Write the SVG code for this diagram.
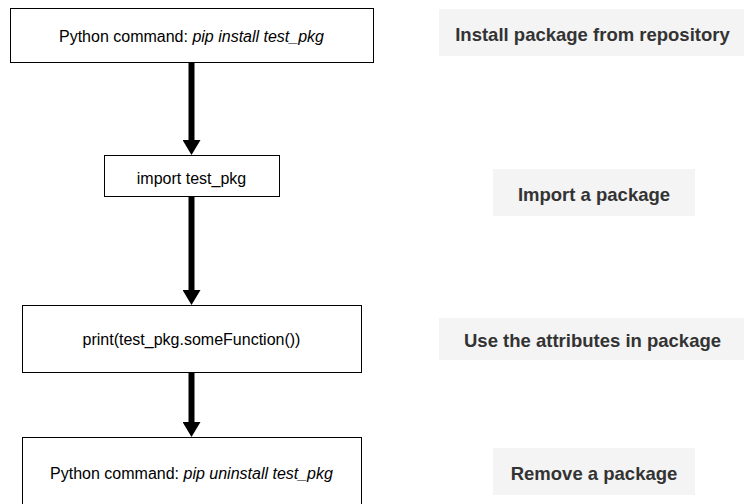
<svg xmlns="http://www.w3.org/2000/svg" width="744" height="504" viewBox="0 0 744 504">
<defs>
<style>
.box{fill:#fff;stroke:#000;stroke-width:1}
.t{font-family:"Liberation Sans",Arial,sans-serif;font-size:16px;fill:#000;text-anchor:middle;dominant-baseline:central}
.lb{fill:#f4f4f4}
.lt{font-family:"Liberation Sans",Arial,sans-serif;font-size:18.5px;font-weight:bold;fill:#333;text-anchor:middle;dominant-baseline:central}
.c{stroke:#000;stroke-width:6;fill:none}
</style>
<marker id="ah" markerUnits="userSpaceOnUse" markerWidth="15" markerHeight="18" refX="0" refY="9" orient="auto" viewBox="0 0 15 18">
<path d="M0,0 L15,9 L0,18 Z" fill="#000"/>
</marker>
</defs>
<rect width="744" height="504" fill="#fff"/>
<g id="connectors">
<path class="c" d="M191.5,62 V140" marker-end="url(#ah)"/>
<path class="c" d="M191.5,196 V290" marker-end="url(#ah)"/>
<path class="c" d="M191.5,372 V422" marker-end="url(#ah)"/>
</g>
<g id="n1">
<rect class="box" x="10.5" y="8.5" width="363" height="54"/>
<text class="t" x="191.5" y="36">Python command: <tspan font-style="italic">pip install test_pkg</tspan></text>
</g>
<g id="n2">
<rect class="box" x="104.5" y="155.5" width="175" height="41"/>
<text class="t" x="191.5" y="178">import test_pkg</text>
</g>
<g id="n3">
<rect class="box" x="22.5" y="305.5" width="339" height="67"/>
<text class="t" x="191.5" y="339">print(test_pkg.someFunction())</text>
</g>
<g id="n4">
<rect class="box" x="22.5" y="437.5" width="339" height="72"/>
<text class="t" x="191.5" y="473">Python command: <tspan font-style="italic">pip uninstall test_pkg</tspan></text>
</g>
<g id="l1">
<rect class="lb" x="439" y="9" width="305" height="47"/>
<text class="lt" x="592.5" y="34">Install package from repository</text>
</g>
<g id="l2">
<rect class="lb" x="493" y="169" width="202" height="47"/>
<text class="lt" x="594" y="194">Import a package</text>
</g>
<g id="l3">
<rect class="lb" x="439" y="318" width="305" height="42"/>
<text class="lt" x="592.5" y="340">Use the attributes in package</text>
</g>
<g id="l4">
<rect class="lb" x="493" y="448" width="202" height="47"/>
<text class="lt" x="594" y="473">Remove a package</text>
</g>
</svg>
